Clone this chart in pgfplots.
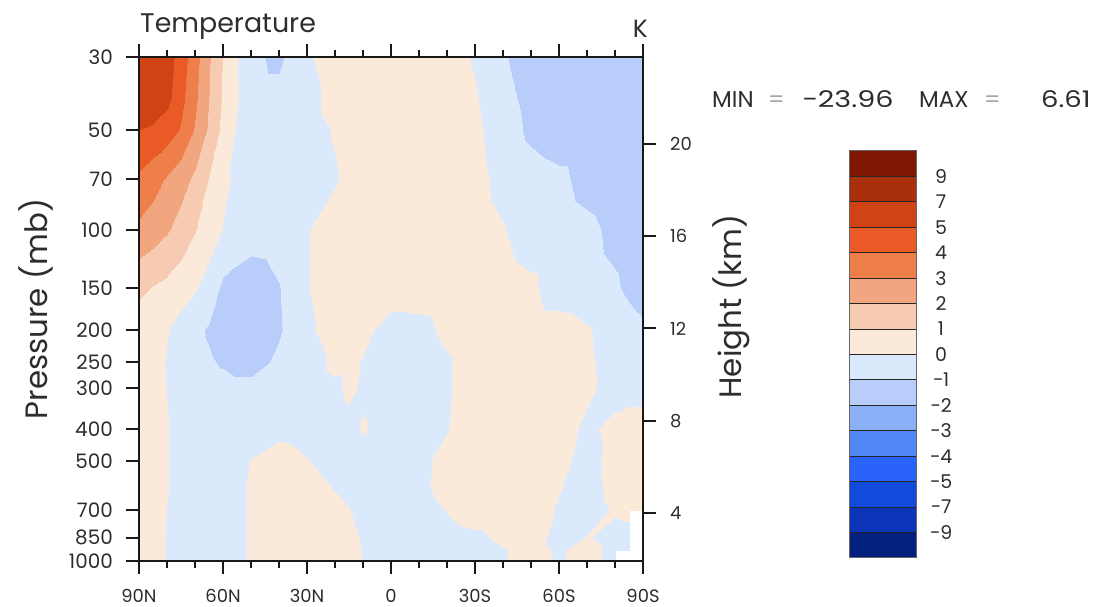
\documentclass[border=0pt]{standalone}
\usepackage{fontspec}
\setmainfont{Poppins}[Numbers=Monospaced]
\usepackage{pgfplots}
\pgfplotsset{compat=1.18}

\definecolor{cA}{RGB}{127,23,5}
\definecolor{cB}{RGB}{168,48,13}
\definecolor{cC}{RGB}{208,67,20}
\definecolor{cD}{RGB}{233,90,38}
\definecolor{cE}{RGB}{238,126,74}
\definecolor{cF}{RGB}{242,166,127}
\definecolor{cG}{RGB}{247,203,177}
\definecolor{cH}{RGB}{251,233,217}
\definecolor{cI}{RGB}{218,233,251}
\definecolor{cJ}{RGB}{184,205,250}
\definecolor{cK}{RGB}{140,176,248}
\definecolor{cL}{RGB}{82,136,245}
\definecolor{cM}{RGB}{41,99,250}
\definecolor{cN}{RGB}{19,74,222}
\definecolor{cO}{RGB}{10,53,184}
\definecolor{cP}{RGB}{3,32,127}
\definecolor{txt}{RGB}{45,45,45}

\begin{document}
\begin{tikzpicture}
\useasboundingbox (0,0) rectangle (1096bp,607bp);

% main field
\begin{axis}[
  at={(139bp,46bp)}, anchor=south west, scale only axis,
  width=504bp, height=504bp,
  xmin=-90, xmax=90, x dir=reverse,
  ymode=log, ymin=30, ymax=1000, y dir=reverse,
  axis on top,
  axis line style={line width=2bp, black!90},
  xtick={90,60,30,0,-30,-60,-90},
  xticklabels={90N,60N,30N,0,30S,60S,90S},
  minor xtick={80,70,50,40,20,10,-10,-20,-40,-50,-70,-80},
  xtick pos=both, xticklabel pos=lower,
  ytick={30,50,70,100,150,200,250,300,400,500,700,850,1000},
  yticklabels={30,50,70,100,150,200,250,300,400,500,700,850,1000},
  ytick pos=left, yminorticks=false,
  tick align=outside, major tick length=13bp, minor tick length=7bp,
  major tick style={line width=2bp, black!90},
  minor tick style={line width=1.4bp, black!90},
  xticklabel style={font=\fontsize{18}{18}\selectfont, text=txt},
  xticklabel shift=12bp,
  yticklabel style={font=\fontsize{20}{20}\selectfont, text=txt,
    anchor=east, inner sep=0pt, xshift=-13bp},
  ylabel={Pressure (mb)},
  ylabel style={at={(axis description cs:-0.204,0.5)}, anchor=center,
    font=\fontsize{31}{31}\selectfont, text=txt},
  colormap={tempk}{rgb255=(3,32,127) rgb255=(3,32,127) rgb255=(10,53,184) rgb255=(10,53,184)
    rgb255=(19,74,222) rgb255=(19,74,222) rgb255=(41,99,250) rgb255=(82,136,245)
    rgb255=(140,176,248) rgb255=(184,205,250) rgb255=(218,233,251) rgb255=(251,233,217)
    rgb255=(247,203,177) rgb255=(242,166,127) rgb255=(238,126,74) rgb255=(233,90,38)
    rgb255=(208,67,20) rgb255=(208,67,20) rgb255=(168,48,13) rgb255=(168,48,13)
    rgb255=(127,23,5) rgb255=(127,23,5)},
  colormap access=piecewise constant,
  point meta min=-11, point meta max=11,
  unbounded coords=jump,
]
\addplot[surf, shader=interp, mesh/cols=24, point meta=explicit]
table[x=lat, y=p, meta=t] {
lat p t
90 30 6.6
85 30 6.0
80 30 5.5
75 30 4.5
70 30 3.4
65 30 2.1
60 30 0.95
50 30 -0.8
40 30 -1.2
30 30 -0.15
20 30 0.6
15 30 0.5
10 30 0.5
0 30 0.5
-10 30 0.5
-20 30 0.5
-30 30 -0.1
-40 30 -0.9
-50 30 -1.5
-60 30 -1.7
-70 30 -1.6
-80 30 -1.5
-85 30 -1.5
-90 30 -1.5
90 40 6.4
85 40 5.9
80 40 5.3
75 40 4.3
70 40 3.2
65 40 2.0
60 40 0.85
50 40 -0.7
40 40 -0.7
30 40 -0.5
20 40 0.5
15 40 0.5
10 40 0.5
0 40 0.5
-10 40 0.5
-20 40 0.5
-30 40 0.1
-40 40 -0.7
-50 40 -1.3
-60 40 -1.6
-70 40 -1.6
-80 40 -1.5
-85 40 -1.5
-90 40 -1.5
90 50 5.0
85 50 4.8
80 50 4.5
75 50 3.9
70 50 2.9
65 50 1.85
60 50 0.7
50 50 -0.9
40 50 -0.6
30 50 -0.5
20 50 0.1
15 50 0.4
10 50 0.5
0 50 0.5
-10 50 0.5
-20 50 0.5
-30 50 0.2
-40 50 -0.5
-50 50 -1.2
-60 50 -1.5
-70 50 -1.5
-80 50 -1.5
-85 50 -1.5
-90 50 -1.5
90 70 3.8
85 70 3.4
80 70 2.9
75 70 2.4
70 70 1.8
65 70 0.95
60 70 0.25
50 70 -0.7
40 70 -0.6
30 70 -0.5
20 70 -0.1
15 70 0.3
10 70 0.5
0 70 0.5
-10 70 0.5
-20 70 0.5
-30 70 0.3
-40 70 -0.3
-50 70 -0.6
-60 70 -0.8
-70 70 -1.3
-80 70 -1.5
-85 70 -1.5
-90 70 -1.5
90 100 2.8
85 100 2.5
80 100 2.1
75 100 1.6
70 100 1.05
65 100 0.5
60 100 -0.05
50 100 -0.6
40 100 -0.5
30 100 -0.05
20 100 0.5
15 100 0.5
10 100 0.5
0 100 0.5
-10 100 0.5
-20 100 0.5
-30 100 0.4
-40 100 0.05
-50 100 -0.5
-60 100 -0.6
-70 100 -0.8
-80 100 -1.2
-85 100 -1.3
-90 100 -1.4
90 150 1.2
85 150 0.95
80 150 0.75
75 150 0.45
70 150 0.1
65 150 -0.4
60 150 -1.2
50 150 -1.5
40 150 -1.05
30 150 -0.05
20 150 0.5
15 150 0.5
10 150 0.5
0 150 0.5
-10 150 0.5
-20 150 0.5
-30 150 0.5
-40 150 0.4
-50 150 0.2
-60 150 -0.6
-70 150 -0.7
-80 150 -0.9
-85 150 -1.15
-90 150 -1.35
90 200 0.5
85 200 0.3
80 200 0.05
75 200 -0.4
70 200 -0.8
65 200 -1.1
60 200 -1.4
50 200 -1.5
40 200 -1.1
30 200 -0.2
20 200 0.5
15 200 0.4
10 200 0.25
0 200 -0.4
-10 200 -0.3
-20 200 0.2
-30 200 0.5
-40 200 0.5
-50 200 0.5
-60 200 0.5
-70 200 0.1
-80 200 -0.5
-85 200 -0.7
-90 200 -0.85
90 250 0.5
85 250 0.25
80 250 -0.05
75 250 -0.5
70 250 -0.7
65 250 -0.9
60 250 -1.1
50 250 -1.4
40 250 -0.8
30 250 -0.6
20 250 0.25
15 250 0.15
10 250 -0.05
0 250 -0.5
-10 250 -0.5
-20 250 -0.1
-30 250 0.5
-40 250 0.5
-50 250 0.5
-60 250 0.5
-70 250 0.15
-80 250 -0.4
-85 250 -0.5
-90 250 -0.5
90 300 0.5
85 300 0.3
80 300 -0.02
75 300 -0.4
70 300 -0.6
65 300 -0.65
60 300 -0.7
50 300 -0.7
40 300 -0.6
30 300 -0.5
20 300 -0.2
15 300 0.2
10 300 -0.15
0 300 -0.5
-10 300 -0.5
-20 300 -0.1
-30 300 0.5
-40 300 0.5
-50 300 0.5
-60 300 0.5
-70 300 0.2
-80 300 -0.4
-85 300 -0.4
-90 300 -0.4
90 400 0.5
85 400 0.3
80 400 0.05
75 400 -0.4
70 400 -0.6
65 400 -0.6
60 400 -0.6
50 400 -0.5
40 400 -0.3
30 400 -0.5
20 400 -0.4
15 400 -0.3
10 400 0.1
0 400 -0.5
-10 400 -0.5
-20 400 -0.05
-30 400 0.5
-40 400 0.5
-50 400 0.5
-60 400 0.4
-70 400 -0.2
-80 400 0.3
-85 400 0.5
-90 400 0.5
90 500 0.5
85 500 0.3
80 500 0.05
75 500 -0.4
70 500 -0.6
65 500 -0.55
60 500 -0.5
50 500 0.05
40 500 0.5
30 500 0.05
20 500 -0.5
15 500 -0.5
10 500 -0.5
0 500 -0.5
-10 500 -0.3
-20 500 0.4
-30 500 0.5
-40 500 0.5
-50 500 0.5
-60 500 0.3
-70 500 -0.4
-80 500 0.4
-85 500 0.5
-90 500 0.5
90 600 0.5
85 600 0.3
80 600 0.05
75 600 -0.4
70 600 -0.6
65 600 -0.5
60 600 -0.5
50 600 0.1
40 600 0.5
30 600 0.5
20 600 -0.05
15 600 -0.3
10 600 -0.5
0 600 -0.5
-10 600 -0.3
-20 600 0.4
-30 600 0.5
-40 600 0.5
-50 600 0.5
-60 600 0.05
-70 600 -0.4
-80 600 0.3
-85 600 0.4
-90 600 0.4
90 700 0.5
85 700 0.3
80 700 -0.02
75 700 -0.4
70 700 -0.6
65 700 -0.5
60 700 -0.5
50 700 0.1
40 700 0.5
30 700 0.5
20 700 0.3
15 700 0.05
10 700 -0.4
0 700 -0.5
-10 700 -0.5
-20 700 0.05
-30 700 0.5
-40 700 0.5
-50 700 0.4
-60 700 -0.1
-70 700 -0.4
-80 700 0.1
-85 700 0.2
-90 700 0.1
90 850 0.5
85 850 0.3
80 850 -0.05
75 850 -0.4
70 850 -0.6
65 850 -0.5
60 850 -0.5
50 850 0.1
40 850 0.5
30 850 0.5
20 850 0.4
15 850 0.3
10 850 -0.1
0 850 -0.5
-10 850 -0.5
-20 850 -0.4
-30 850 -0.2
-40 850 0.2
-50 850 0.4
-60 850 -0.3
-70 850 0.05
-80 850 -0.3
-85 850 -0.3
-90 nan nan
90 925 0.5
85 925 0.3
80 925 -0.05
75 925 -0.4
70 925 -0.6
65 925 -0.5
60 925 -0.5
50 925 0.1
40 925 0.5
30 925 0.5
20 925 0.4
15 925 0.3
10 925 -0.05
0 925 -0.5
-10 925 -0.5
-20 925 -0.5
-30 925 -0.4
-40 925 -0.05
-50 925 0.3
-60 925 -0.1
-70 925 0.3
-80 925 -0.3
-85 925 -0.3
-90 nan nan
90 1000 0.5
85 1000 0.3
80 1000 -0.05
75 1000 -0.4
70 1000 -0.6
65 1000 -0.5
60 1000 -0.5
50 1000 0.1
40 1000 0.5
30 1000 0.5
20 1000 0.4
15 1000 0.3
10 1000 -0.05
0 1000 -0.5
-10 1000 -0.5
-20 1000 -0.5
-30 1000 -0.4
-40 1000 -0.05
-50 1000 0.3
-60 1000 -0.1
-70 1000 0.3
-80 1000 -0.3
-85 nan nan
-90 nan nan
};
\end{axis}

% height axis on the right
\begin{axis}[
  at={(139bp,46bp)}, anchor=south west, scale only axis,
  width=504bp, height=504bp,
  xmin=-90, xmax=90, ymin=1.92, ymax=23.77,
  axis x line=none, axis y line*=right,
  axis line style={line width=2bp, black!90, -},
  ytick={4,8,12,16,20}, yticklabels={4,8,12,16,20},
  tick align=outside, major tick length=13bp,
  major tick style={line width=2bp, black!90},
  yminorticks=false,
  yticklabel style={font=\fontsize{18}{18}\selectfont, text=txt,
    anchor=west, inner sep=0pt, xshift=14bp},
  ylabel={Height (km)},
  ylabel style={at={(axis description cs:1.175,0.505)}, anchor=center,
    font=\fontsize{31}{31}\selectfont, text=txt},
]
\addplot[draw=none] coordinates {(0,5)};
\end{axis}

% colour key
\begin{axis}[
  at={(849bp,49bp)}, anchor=south west, scale only axis,
  width=67bp, height=407bp,
  xmin=0, xmax=1, ymin=0, ymax=16,
  xtick=\empty,
  ytick={1,...,15},
  yticklabels={−9,−7,−5,−4,−3,−2,−1,0,1,2,3,4,5,7,9},
  ytick pos=right, major tick length=0pt,
  yticklabel style={anchor=center, xshift=25bp, font=\fontsize{19}{19}\selectfont, text=txt},
  axis line style={draw=black!60, line width=1bp},
  axis on top,
]
\addplot[fill=cP, draw=black!85, line width=1bp] coordinates {(0,0) (1,0) (1,1) (0,1)} -- cycle;
\addplot[fill=cO, draw=black!85, line width=1bp] coordinates {(0,1) (1,1) (1,2) (0,2)} -- cycle;
\addplot[fill=cN, draw=black!85, line width=1bp] coordinates {(0,2) (1,2) (1,3) (0,3)} -- cycle;
\addplot[fill=cM, draw=black!85, line width=1bp] coordinates {(0,3) (1,3) (1,4) (0,4)} -- cycle;
\addplot[fill=cL, draw=black!85, line width=1bp] coordinates {(0,4) (1,4) (1,5) (0,5)} -- cycle;
\addplot[fill=cK, draw=black!85, line width=1bp] coordinates {(0,5) (1,5) (1,6) (0,6)} -- cycle;
\addplot[fill=cJ, draw=black!85, line width=1bp] coordinates {(0,6) (1,6) (1,7) (0,7)} -- cycle;
\addplot[fill=cI, draw=black!85, line width=1bp] coordinates {(0,7) (1,7) (1,8) (0,8)} -- cycle;
\addplot[fill=cH, draw=black!85, line width=1bp] coordinates {(0,8) (1,8) (1,9) (0,9)} -- cycle;
\addplot[fill=cG, draw=black!85, line width=1bp] coordinates {(0,9) (1,9) (1,10) (0,10)} -- cycle;
\addplot[fill=cF, draw=black!85, line width=1bp] coordinates {(0,10) (1,10) (1,11) (0,11)} -- cycle;
\addplot[fill=cE, draw=black!85, line width=1bp] coordinates {(0,11) (1,11) (1,12) (0,12)} -- cycle;
\addplot[fill=cD, draw=black!85, line width=1bp] coordinates {(0,12) (1,12) (1,13) (0,13)} -- cycle;
\addplot[fill=cC, draw=black!85, line width=1bp] coordinates {(0,13) (1,13) (1,14) (0,14)} -- cycle;
\addplot[fill=cB, draw=black!85, line width=1bp] coordinates {(0,14) (1,14) (1,15) (0,15)} -- cycle;
\addplot[fill=cA, draw=black!85, line width=1bp] coordinates {(0,15) (1,15) (1,16) (0,16)} -- cycle;
\end{axis}

% texts
\node[anchor=base west, text=txt, font=\fontsize{27}{27}\selectfont, inner sep=0pt] at (140bp,574bp) {Temperature};
\node[anchor=base east, text=txt, font=\fontsize{25}{25}\selectfont, inner sep=0pt] at (648bp,569bp) {K};
\begin{scope}[every node/.style={anchor=base west, text=txt, font=\fontsize{23}{23}\selectfont, inner sep=0pt}]
\node at (712bp,499bp) {MIN};
\node[text=black!35] at (768bp,499bp) {=};
\node at (802bp,499bp) {\scalebox{1.25}[1]{−23.96}};
\node at (919bp,499bp) {MAX};
\node[text=black!35] at (984bp,499bp) {=};
\node at (1041bp,499bp) {\scalebox{1.2}[1]{6.61}};
\end{scope}
\end{tikzpicture}
\end{document}
